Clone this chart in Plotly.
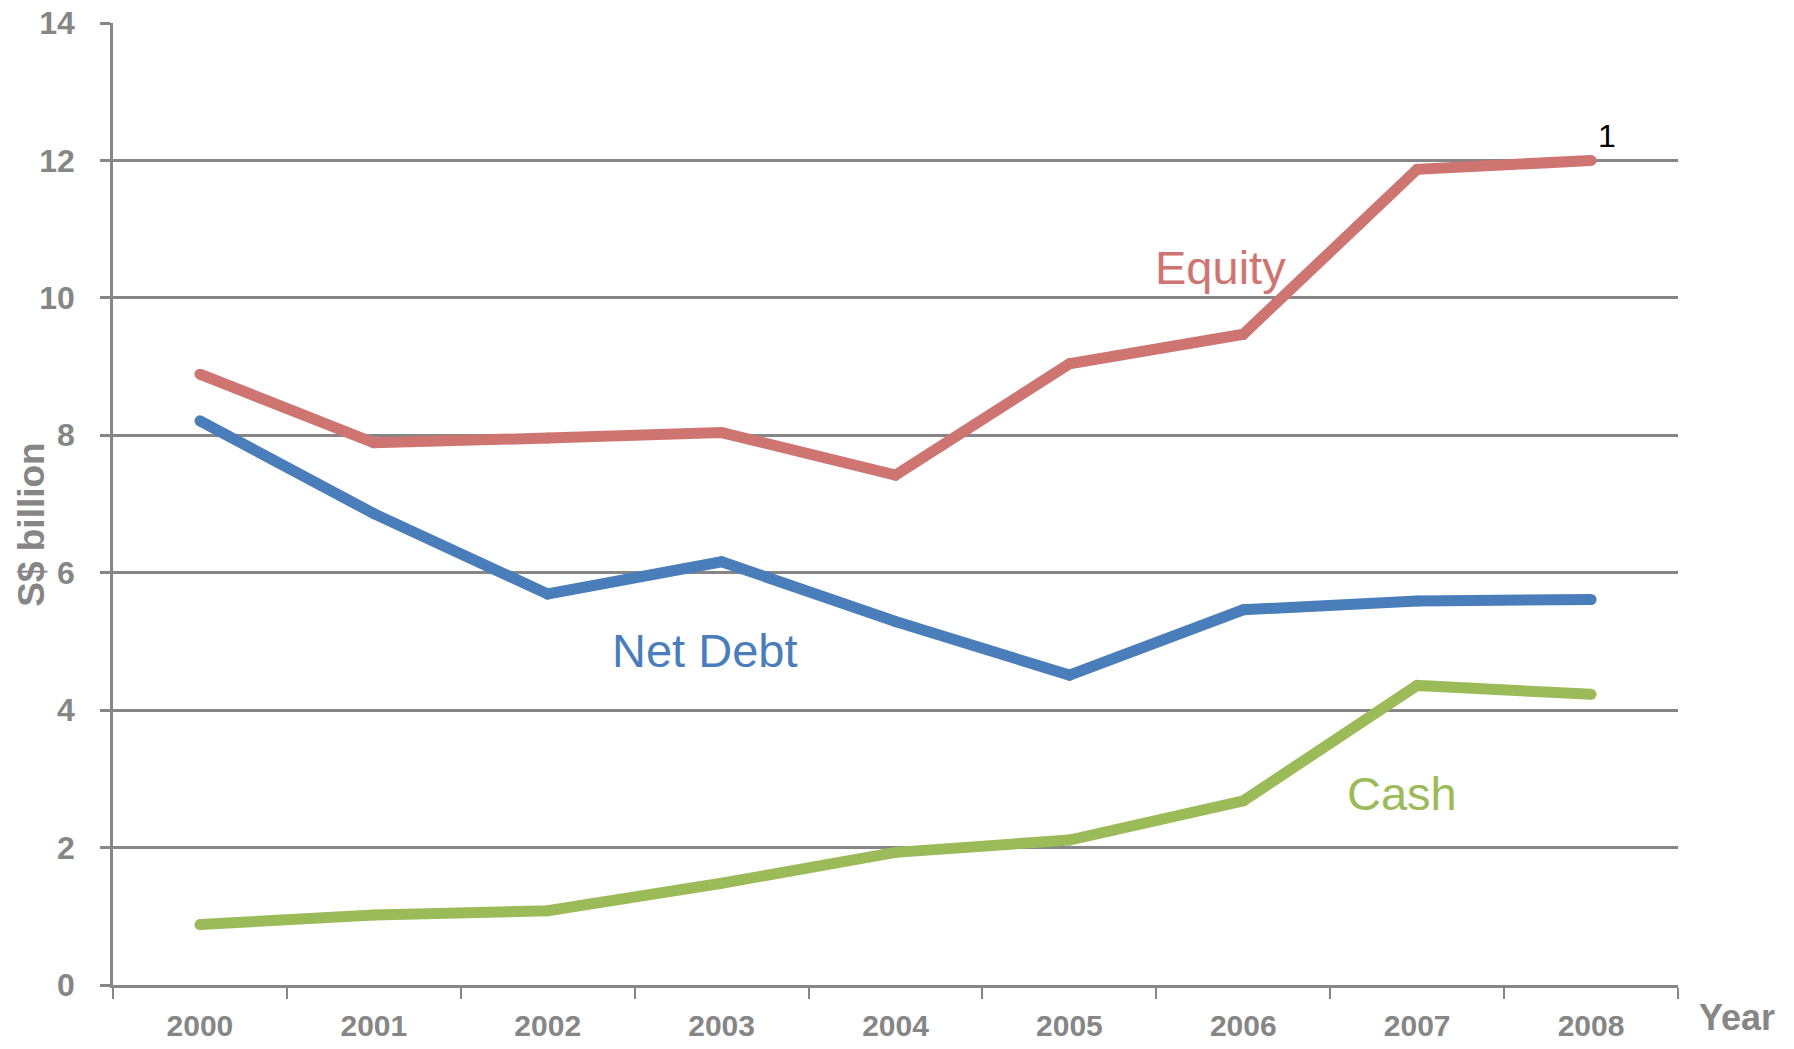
import plotly.graph_objects as go

# Balance-sheet series, S$ billion
years = ["2000", "2001", "2002", "2003", "2004", "2005", "2006", "2007", "2008"]
equity = [8.89, 7.89, 7.96, 8.04, 7.42, 9.04, 9.47, 11.87, 12.0]
net_debt = [8.21, 6.86, 5.69, 6.16, 5.29, 4.51, 5.46, 5.59, 5.61]
cash = [0.88, 1.02, 1.08, 1.48, 1.93, 2.11, 2.68, 4.36, 4.23]

C_EQUITY = "#CF7571"
C_DEBT = "#4A7EBB"
C_CASH = "#9BBB59"
GRID = "#868686"
FONT = "Liberation Sans, Arial, sans-serif"

fig = go.Figure()
for name, vals, col in [("Equity", equity, C_EQUITY),
                        ("Net Debt", net_debt, C_DEBT),
                        ("Cash", cash, C_CASH)]:
    # thick lines; same-size round markers give rounded joins and ends
    fig.add_trace(go.Scatter(
        x=years, y=vals, mode="lines+markers", name=name,
        line=dict(color=col, width=11),
        marker=dict(color=col, size=11, line=dict(width=0)),
        showlegend=False, hoverinfo="x+y+name",
    ))

# Series labels placed beside their lines
labels = [("Equity", 5.87, 10.44, C_EQUITY),
          ("Net Debt", 2.90, 4.87, C_DEBT),
          ("Cash", 6.91, 2.79, C_CASH)]
for text, xi, yv, col in labels:
    fig.add_annotation(x=xi, y=yv, xref="x", yref="y", text=text,
                       showarrow=False, xanchor="center", yanchor="middle",
                       font=dict(family=FONT, size=47, color=col))

# Footnote marker on the last equity point
fig.add_annotation(x=8.09, y=12.36, xref="x", yref="y", text="1",
                   showarrow=False, xanchor="center", yanchor="middle",
                   font=dict(family=FONT, size=32, color="#000000"))

# Axis titles
fig.add_annotation(x=-0.052, y=0.478, xref="paper", yref="paper",
                   text="<b>S$ billion</b>", textangle=-90, showarrow=False,
                   xanchor="center", yanchor="middle",
                   font=dict(family=FONT, size=37, color=GRID))
fig.add_annotation(x=1.0375, y=-0.034, xref="paper", yref="paper",
                   text="<b>Year</b>", showarrow=False,
                   xanchor="center", yanchor="middle",
                   font=dict(family=FONT, size=36, color=GRID))

fig.update_layout(
    width=1794, height=1049,
    margin=dict(l=113, r=116, t=23, b=64),
    plot_bgcolor="white", paper_bgcolor="white",
    font=dict(family=FONT),
)
fig.update_xaxes(
    type="category", range=[-0.5, 8.5], automargin=False,
    tickson="boundaries", ticks="outside", ticklen=11,
    tickcolor=GRID, tickwidth=2,
    showline=True, linecolor=GRID, linewidth=3,
    showgrid=False, zeroline=False,
    tickfont=dict(family=FONT, size=30, color=GRID),
    tickprefix="<b>", ticksuffix="</b>",
    ticklabelstandoff=12,
)
fig.update_yaxes(
    range=[0, 14], dtick=2, ticks="outside", ticklen=10, automargin=False,
    tickcolor=GRID, tickwidth=2.5,
    showline=True, linecolor=GRID, linewidth=2.5,
    showgrid=True, gridcolor=GRID, gridwidth=2.5,
    zeroline=False,
    tickfont=dict(family=FONT, size=32, color=GRID),
    tickprefix="<b>", ticksuffix="</b>",
    ticklabelstandoff=19,
)

fig.write_html("out.html")
